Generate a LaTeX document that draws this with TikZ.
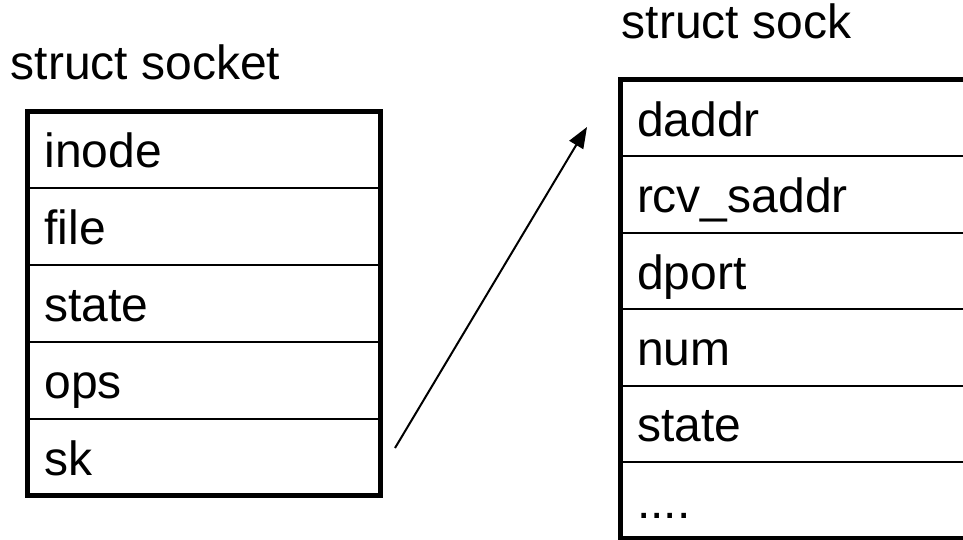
\documentclass[tikz,border=0pt]{standalone}
\usepackage{fontspec}
\setmainfont{Liberation Sans}
\usetikzlibrary{arrows.meta,positioning}
\tikzset{
  cell/.style={draw, line width=1.8pt, outer sep=0pt, inner xsep=17pt, inner ysep=0pt,
    text height=36pt, text depth=0pt, align=left, anchor=north west,
    font=\fontsize{48}{50}\selectfont},
  lcell/.style={cell, text width=318.5pt, minimum height=76.8pt},
  rcell/.style={cell, text width=340pt, minimum height=76.4pt},
  title/.style={anchor=base west, inner sep=0pt, font=\fontsize{48}{50}\selectfont},
  frame/.style={line width=5pt},
  ptr/.style={line width=2pt, -{Triangle[length=21pt,width=16pt]}}
}
\begin{document}
\begin{tikzpicture}[x=1pt,y=-1pt]
\useasboundingbox (0,0) rectangle (963,540);
\fill[white] (0,0) rectangle (963,540);
\clip (0,0) rectangle (963,540);
% titles
\node[title] (t1) at (10.5,80) {struct socket};
\node[title] (t2) at (621.5,39) {struct sock};
% struct socket
\node[lcell] (s1) at (27.5,111.5) {inode};
\node[lcell, below=0pt of s1] (s2) {file};
\node[lcell, below=0pt of s2] (s3) {state};
\node[lcell, below=0pt of s3] (s4) {ops};
\node[lcell, below=0pt of s4] (s5) {sk};
\draw[frame] (s1.north west) rectangle (s5.south east);
% struct sock
\node[rcell] (k1) at (620,80) {daddr};
\node[rcell, below=0pt of k1] (k2) {rcv\_saddr};
\node[rcell, below=0pt of k2] (k3) {dport};
\node[rcell, below=0pt of k3] (k4) {num};
\node[rcell, below=0pt of k4] (k5) {state};
\node[rcell, below=0pt of k5] (k6) {....};
\draw[frame] (k1.north west) rectangle (k6.south east);
% pointer
\coordinate (skend) at (395,448);
\coordinate (sockend) at (587,127);
\draw[ptr] (skend) -- (sockend);
\end{tikzpicture}
\end{document}
